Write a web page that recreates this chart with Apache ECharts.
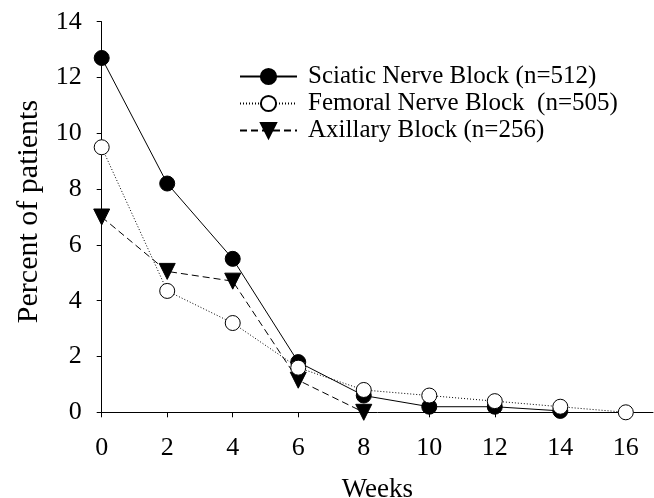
<!DOCTYPE html>
<html>
<head>
<meta charset="utf-8">
<script src="https://cdn.jsdelivr.net/npm/echarts@6/dist/echarts.min.js"></script>
<style>
html,body{margin:0;padding:0;background:#fff;}
#chart{width:654px;height:498px;}
</style>
</head>
<body>
<div id="chart"></div>
<script>
const weeks = [0, 2, 4, 6, 8, 10, 12, 14, 16];
const sciatic = [12.7, 8.2, 5.5, 1.8, 0.6, 0.2, 0.2, 0.05];
const femoral = [9.5, 4.35, 3.2, 1.6, 0.8, 0.6, 0.4, 0.2, 0];
const axillary = [7.0, 5.05, 4.7, 1.15, 0];
const seriesNames = ['Sciatic Nerve Block (n=512)', 'Femoral Nerve Block  (n=505)', 'Axillary Block (n=256)'];
const xTicks = [0, 2, 4, 6, 8, 10, 12, 14, 16];
const yTicks = [0, 2, 4, 6, 8, 10, 12, 14];

const FONT = 'Liberation Serif';
const pair = vals => vals.map((v, i) => [weeks[i], v]);

const chart = echarts.init(document.getElementById('chart'), null, {renderer: 'canvas'});
chart.setOption({
  animation: false,
  backgroundColor: '#fff',
  grid: {left: 101.7, right: 1, top: 21.7, bottom: 85.7, containLabel: false, outerBoundsMode: 'none'},
  legend: {
    orient: 'vertical',
    left: 239, top: 64, padding: 0,
    itemWidth: 57, itemHeight: 19, itemGap: 2,
    selectedMode: false,
    textStyle: {fontFamily: FONT, fontSize: 25, color: '#000', padding: [0, 0, 0, 6]},
    data: seriesNames
  },
  xAxis: {
    type: 'value', min: 0, max: 16.83,
    name: 'Weeks', nameLocation: 'middle', nameGap: 64,
    nameTextStyle: {fontFamily: FONT, fontSize: 27, color: '#000'},
    axisLine: {lineStyle: {color: '#000', width: 1}},
    axisTick: {show: true, length: 5, customValues: xTicks, lineStyle: {color: '#000'}},
    axisLabel: {customValues: xTicks, fontFamily: FONT, fontSize: 26, color: '#000', margin: 23},
    splitLine: {show: false}
  },
  yAxis: {
    type: 'value', min: 0, max: 14, interval: 2,
    name: 'Percent of patients', nameLocation: 'middle', nameGap: 58,
    nameTextStyle: {fontFamily: FONT, fontSize: 30, color: '#000', padding: [0, 0, 0, 11]},
    axisLine: {show: true, lineStyle: {color: '#000', width: 1}},
    axisTick: {show: true, length: 5, customValues: yTicks, lineStyle: {color: '#000'}},
    axisLabel: {customValues: yTicks, fontFamily: FONT, fontSize: 26, color: '#000', margin: 20},
    splitLine: {show: false}
  },
  series: [
    {
      name: seriesNames[0], type: 'line', data: pair(sciatic),
      symbol: 'circle', symbolSize: 15,
      lineStyle: {color: '#000', width: 1, type: 'solid'},
      itemStyle: {color: '#000', borderColor: '#000', borderWidth: 1},
      emphasis: {disabled: true}, z: 2
    },
    {
      name: seriesNames[2], type: 'line', data: pair(axillary),
      symbol: 'triangle', symbolSize: 16, symbolRotate: 180,
      lineStyle: {color: '#000', width: 1, type: [7, 4]},
      itemStyle: {color: '#000', borderColor: '#000', borderWidth: 1},
      emphasis: {disabled: true}, z: 3
    },
    {
      name: seriesNames[1], type: 'line', data: pair(femoral),
      symbol: 'circle', symbolSize: 15,
      lineStyle: {color: '#000', width: 1, type: [1, 2]},
      itemStyle: {color: '#fff', borderColor: '#000', borderWidth: 1},
      emphasis: {disabled: true}, z: 4
    }
  ]
});
</script>
</body>
</html>
